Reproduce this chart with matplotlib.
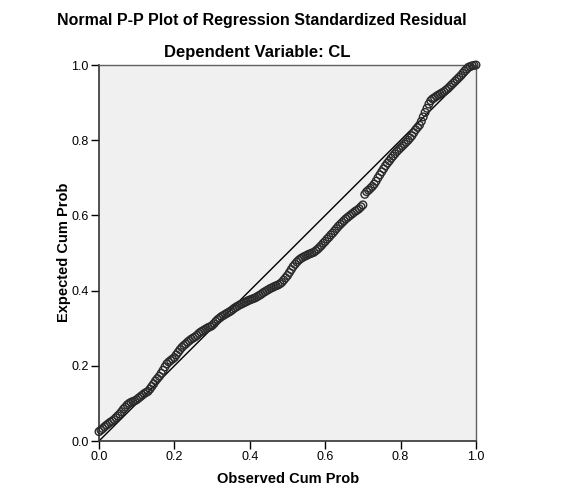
import matplotlib
matplotlib.use("Agg")
import matplotlib.pyplot as plt

plt.rcParams["font.family"] = ["Liberation Sans", "DejaVu Sans"]

# observed vs expected cumulative probabilities
obs_cum_prob = [
    0.000, 0.005, 0.010, 0.015, 0.020, 0.025, 0.030, 0.035, 0.040, 0.045,
    0.050, 0.055, 0.060, 0.065, 0.070, 0.075, 0.080, 0.085, 0.090, 0.095,
    0.100, 0.105, 0.110, 0.115, 0.120, 0.125, 0.130, 0.135, 0.140, 0.145,
    0.150, 0.155, 0.160, 0.165, 0.170, 0.175, 0.180, 0.185, 0.190, 0.195,
    0.200, 0.205, 0.210, 0.215, 0.220, 0.225, 0.230, 0.235, 0.240, 0.245,
    0.250, 0.255, 0.260, 0.265, 0.270, 0.275, 0.280, 0.285, 0.290, 0.295,
    0.300, 0.305, 0.310, 0.315, 0.320, 0.325, 0.330, 0.335, 0.340, 0.345,
    0.350, 0.355, 0.360, 0.365, 0.370, 0.375, 0.380, 0.385, 0.390, 0.395,
    0.400, 0.405, 0.410, 0.415, 0.420, 0.425, 0.430, 0.435, 0.440, 0.445,
    0.450, 0.455, 0.460, 0.465, 0.470, 0.475, 0.480, 0.485, 0.490, 0.495,
    0.500, 0.505, 0.510, 0.515, 0.520, 0.525, 0.530, 0.535, 0.540, 0.545,
    0.550, 0.555, 0.560, 0.565, 0.570, 0.575, 0.580, 0.585, 0.590, 0.595,
    0.600, 0.605, 0.610, 0.615, 0.620, 0.625, 0.630, 0.635, 0.640, 0.645,
    0.650, 0.655, 0.660, 0.665, 0.670, 0.675, 0.680, 0.685, 0.690, 0.695,
    0.700, 0.705, 0.710, 0.715, 0.720, 0.725, 0.730, 0.735, 0.740, 0.745,
    0.750, 0.755, 0.760, 0.765, 0.770, 0.775, 0.780, 0.785, 0.790, 0.795,
    0.800, 0.805, 0.810, 0.815, 0.820, 0.825, 0.830, 0.835, 0.840, 0.845,
    0.850, 0.855, 0.860, 0.865, 0.870, 0.875, 0.880, 0.885, 0.890, 0.895,
    0.900, 0.905, 0.910, 0.915, 0.920, 0.925, 0.930, 0.935, 0.940, 0.945,
    0.950, 0.955, 0.960, 0.965, 0.970, 0.975, 0.980, 0.985, 0.990, 0.995,
    1.000,
]
exp_cum_prob = [
    0.025, 0.029, 0.033, 0.038, 0.042, 0.046, 0.050, 0.053, 0.057, 0.062,
    0.067, 0.072, 0.078, 0.085, 0.090, 0.096, 0.100, 0.103, 0.105, 0.107,
    0.110, 0.114, 0.118, 0.122, 0.126, 0.129, 0.132, 0.138, 0.145, 0.152,
    0.160, 0.166, 0.172, 0.180, 0.188, 0.197, 0.205, 0.210, 0.214, 0.218,
    0.222, 0.229, 0.236, 0.243, 0.249, 0.254, 0.258, 0.263, 0.267, 0.271,
    0.274, 0.277, 0.281, 0.286, 0.290, 0.293, 0.296, 0.299, 0.302, 0.304,
    0.307, 0.312, 0.318, 0.323, 0.327, 0.331, 0.334, 0.337, 0.340, 0.343,
    0.346, 0.350, 0.354, 0.357, 0.360, 0.363, 0.365, 0.368, 0.370, 0.373,
    0.375, 0.377, 0.379, 0.381, 0.384, 0.387, 0.390, 0.394, 0.397, 0.400,
    0.403, 0.406, 0.408, 0.411, 0.413, 0.415, 0.418, 0.422, 0.428, 0.434,
    0.440, 0.448, 0.456, 0.464, 0.470, 0.476, 0.481, 0.485, 0.488, 0.491,
    0.493, 0.496, 0.498, 0.500, 0.502, 0.506, 0.510, 0.515, 0.520, 0.526,
    0.531, 0.537, 0.542, 0.548, 0.553, 0.559, 0.565, 0.571, 0.576, 0.581,
    0.586, 0.591, 0.595, 0.599, 0.603, 0.607, 0.611, 0.614, 0.618, 0.623,
    0.628, 0.656, 0.663, 0.667, 0.672, 0.677, 0.683, 0.691, 0.700, 0.708,
    0.716, 0.724, 0.732, 0.739, 0.745, 0.752, 0.758, 0.764, 0.770, 0.775,
    0.780, 0.785, 0.790, 0.795, 0.800, 0.806, 0.812, 0.820, 0.828, 0.834,
    0.840, 0.850, 0.862, 0.874, 0.885, 0.896, 0.905, 0.910, 0.913, 0.917,
    0.920, 0.923, 0.926, 0.929, 0.933, 0.937, 0.942, 0.947, 0.952, 0.957,
    0.962, 0.967, 0.972, 0.978, 0.984, 0.989, 0.994, 0.996, 0.998, 0.999,
    1.000,
]
ticks = [0.0, 0.2, 0.4, 0.6, 0.8, 1.0]

fig = plt.figure(figsize=(5.74, 5.01), dpi=100)
ax = fig.add_axes([99 / 574, 1 - 441 / 501, 377 / 574, 376 / 501])
ax.set_facecolor("#f0f0f0")

ax.plot([0, 1], [0, 1], color="black", lw=1, zorder=2)
ax.scatter(obs_cum_prob, exp_cum_prob, s=30, facecolors="none",
           edgecolors="#2a2a2a", linewidths=1.0, zorder=3, clip_on=False)

ax.set_xlim(0, 1)
ax.set_ylim(0, 1)
ax.set_xticks(ticks)
ax.set_yticks(ticks)
ax.set_xticklabels([f"{t:.1f}" for t in ticks])
ax.set_yticklabels([f"{t:.1f}" for t in ticks])
ax.tick_params(direction="out", length=6, width=1, labelsize=9, pad=1.5)

for side in ["left", "bottom"]:
    ax.spines[side].set_color("#333333")
    ax.spines[side].set_linewidth(1.2)
for side in ["top", "right"]:
    ax.spines[side].set_color("#606060")
    ax.spines[side].set_linewidth(1.0)

fig.text(262 / 574, 1 - 21 / 501, "Normal P-P Plot of Regression Standardized Residual",
         ha="center", va="center", fontsize=11.5, fontweight="bold")
fig.text(257 / 574, 1 - 52 / 501, "Dependent Variable: CL",
         ha="center", va="center", fontsize=12, fontweight="bold")
fig.text(288 / 574, 1 - 479 / 501, "Observed Cum Prob",
         ha="center", va="center", fontsize=10.5, fontweight="bold")
fig.text(64 / 574, 1 - 252 / 501, "Expected Cum Prob", rotation=90,
         ha="center", va="center", fontsize=10.5, fontweight="bold")

fig.savefig("out.png", dpi=100)
